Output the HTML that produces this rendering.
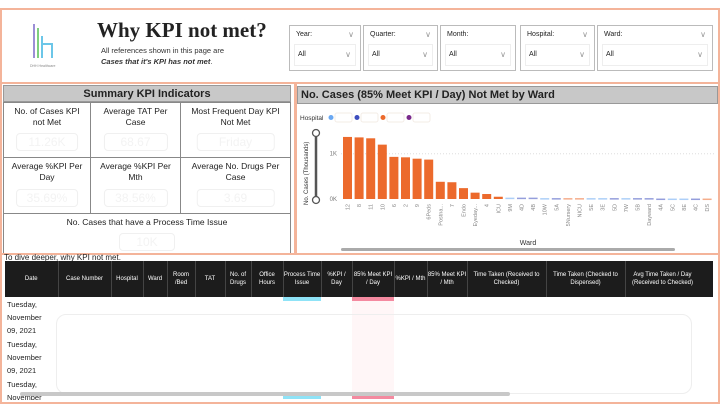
<!DOCTYPE html>
<html><head><meta charset="utf-8"><style>
*{box-sizing:border-box;margin:0;padding:0}
body{width:720px;height:405px;background:#fff;font-family:"Liberation Sans",sans-serif;position:relative;overflow:hidden;color:#222}
.abs{position:absolute}
.slicer{position:absolute;top:25px;height:46px;border:1px solid #bbb;background:#fff;font-size:7px}
.slicer .l{position:absolute;left:6px;top:5px}
.slicer .v{position:absolute;left:4px;right:4px;top:18px;height:22px;border:1px solid #eee;padding:6px 0 0 3px}
.chev{position:absolute;right:6px;color:#999;font-size:8px}
.cell{position:absolute;border:1px solid #888;background:#fff;font-size:8.5px;text-align:center;line-height:11px;padding-top:3px}
.cell .box{position:absolute;left:50%;transform:translateX(-50%);bottom:6px;width:72%;height:18px;border:1px solid #f0f0f0;border-radius:4px;color:#f3f3f3;font-size:12px;line-height:16px}
th{background:#1c1c1c;color:#fff;font-weight:normal;font-size:6px;line-height:8px;border-right:1px solid #444;height:36px;vertical-align:middle;padding:0}
td{font-size:7.5px;line-height:13px;vertical-align:top;padding:1px 2px 0;height:39px;overflow:hidden}
tr.r{height:39px}
</style></head><body>
<div class="abs" style="left:0;top:8px;width:720px;height:76px;border:2px solid #f4b49a"></div>
<svg class="abs" style="left:28px;top:22px" width="40" height="48"><line x1="6" y1="2" x2="6" y2="36" stroke="#9c8fd6" stroke-width="2"/><line x1="10" y1="6" x2="10" y2="36" stroke="#7fcf7f" stroke-width="2"/><path d="M14 14 V36 M14 22 H24 V36" stroke="#6cc6e8" stroke-width="2" fill="none"/><text x="2" y="45" font-size="3.5" fill="#888">DHH Healthcare</text></svg>
<div class="abs" style="left:97px;top:18px;font-family:'Liberation Serif',serif;font-weight:bold;font-size:21px">Why KPI not met?</div>
<div class="abs" style="left:101px;top:45px;font-size:7.5px;line-height:11px;color:#333">All references shown in this page are<br><b><i>Cases that it's KPI has not met</i></b>.</div>
<div class="slicer" style="left:289px;width:72px"><span class="l">Year:</span><span class="chev" style="top:4px">∨</span><div class="v">All<span class="chev" style="top:5px;right:4px">∨</span></div></div>
<div class="slicer" style="left:363px;width:75px"><span class="l">Quarter:</span><span class="chev" style="top:4px">∨</span><div class="v">All<span class="chev" style="top:5px;right:4px">∨</span></div></div>
<div class="slicer" style="left:440px;width:76px"><span class="l">Month:</span><div class="v">All<span class="chev" style="top:5px;right:4px">∨</span></div></div>
<div class="slicer" style="left:520px;width:75px"><span class="l">Hospital:</span><span class="chev" style="top:4px">∨</span><div class="v">All<span class="chev" style="top:5px;right:4px">∨</span></div></div>
<div class="slicer" style="left:597px;width:116px"><span class="l">Ward:</span><span class="chev" style="top:4px">∨</span><div class="v">All<span class="chev" style="top:5px;right:4px">∨</span></div></div>

<div class="abs" style="left:0;top:84px;width:296px;height:171px;border:2px solid #f4b49a;border-top:none"></div>
<div class="abs" style="left:3px;top:85px;width:288px;height:17px;background:#c8c8c8;border:1px solid #999;font-size:11px;font-weight:bold;text-align:center;line-height:16px">Summary KPI Indicators</div>
<div class="cell" style="left:3px;top:102px;width:88px;height:56px">No. of Cases KPI<br>not Met<div class="box">11.26K</div></div>
<div class="cell" style="left:90px;top:102px;width:91px;height:56px">Average TAT Per<br>Case<div class="box">68.67</div></div>
<div class="cell" style="left:180px;top:102px;width:111px;height:56px">Most Frequent Day KPI<br>Not Met<div class="box">Friday</div></div>
<div class="cell" style="left:3px;top:157px;width:88px;height:57px">Average %KPI Per<br>Day<div class="box">35.69%</div></div>
<div class="cell" style="left:90px;top:157px;width:91px;height:57px">Average %KPI Per<br>Mth<div class="box">38.56%</div></div>
<div class="cell" style="left:180px;top:157px;width:111px;height:57px">Average No. Drugs Per<br>Case<div class="box">3.69</div></div>
<div class="cell" style="left:3px;top:213px;width:288px;height:40px;border-bottom:none">No. Cases that have a Process Time Issue<div class="box" style="width:56px;bottom:2px">10K</div></div>

<div class="abs" style="left:295px;top:84px;width:425px;height:171px;border:2px solid #f4b49a;border-top:none"></div>
<div class="abs" style="left:297px;top:86px;width:421px;height:18px;background:#c8c8c8;border:1px solid #999;font-size:11px;font-weight:bold;line-height:17px;padding-left:3px">No. Cases (85% Meet KPI / Day) Not Met by Ward</div>
<svg class="abs" id="chart" style="left:297px;top:105px" width="421" height="148"></svg>

<div class="abs" style="left:0;top:253px;width:720px;height:151px;border:2px solid #f4b49a;border-top:none"></div>
<div class="abs" style="left:4px;top:253px;font-size:8px">To dive deeper, why KPI not met.</div>
<table class="abs" style="left:5px;top:261px;width:695px;border-collapse:collapse;text-align:center;table-layout:fixed">
<colgroup><col style="width:53px"><col style="width:53px"><col style="width:32px"><col style="width:24px"><col style="width:28px"><col style="width:30px"><col style="width:26px"><col style="width:32px"><col style="width:38px"><col style="width:31px"><col style="width:42px"><col style="width:33px"><col style="width:40px"><col style="width:79px"><col style="width:79px"><col style="width:75px"></colgroup>
<tr><th>Date</th><th>Case Number</th><th>Hospital</th><th>Ward</th><th>Room /Bed</th><th>TAT</th><th>No. of Drugs</th><th>Office Hours</th><th>Process Time Issue</th><th>%KPI / Day</th><th>85% Meet KPI / Day</th><th>%KPI / Mth</th><th>85% Meet KPI / Mth</th><th>Time Taken (Received to Checked)</th><th>Time Taken (Checked to Dispensed)</th><th>Avg Time Taken / Day (Received to Checked)</th></tr>
<tr class="r"><td style="text-align:left">Tuesday,<br>November<br>09, 2021</td><td colspan="15"></td></tr>
<tr class="r"><td style="text-align:left">Tuesday,<br>November<br>09, 2021</td><td colspan="15"></td></tr>
<tr class="r"><td style="text-align:left">Tuesday,<br>November</td><td colspan="15"></td></tr>
</table>
<div class="abs" style="left:3px;top:400px;width:714px;height:2px;background:#fff"></div>
<div class="abs" style="left:700px;top:261px;width:13px;height:36px;background:#1c1c1c"></div>
<div class="abs" style="left:283px;top:297px;width:38px;height:4px;background:#8fe3f7"></div>
<div class="abs" style="left:283px;top:395px;width:38px;height:4px;background:#8fe3f7"></div>
<div class="abs" style="left:352px;top:297px;width:42px;height:4px;background:#f48aa0"></div>
<div class="abs" style="left:352px;top:395px;width:42px;height:4px;background:#f48aa0"></div>
<div class="abs" style="left:352px;top:301px;width:42px;height:94px;background:#fff6f7"></div>
<div class="abs" style="left:56px;top:314px;width:636px;height:80px;border:1px solid #eee;border-radius:10px"></div>
<div class="abs" style="left:20px;top:392px;width:490px;height:4px;background:#c8c8c8;border-radius:2px"></div>

<script>
const wards=["12","8","11","10","6","2","9","6Peds","Postna...","7","Endo","Eyeday...","4","ICU","9M","4D","4B","10W","5A","5Nursery","NICU","5E","3E","5D","7W","5B","Dayward","4A","5C","8E","4C","DS"];
const cases=[1.37,1.36,1.34,1.20,0.93,0.92,0.89,0.87,0.38,0.37,0.24,0.14,0.11,0.05,0.03,0.03,0.03,0.02,0.02,0.02,0.02,0.02,0.02,0.02,0.02,0.02,0.02,0.01,0.01,0.01,0.01,0.01];
const hospitalIdx=[2,2,2,2,2,2,2,2,2,2,2,2,2,2,0,1,1,0,1,2,2,0,0,1,0,1,1,1,0,0,1,2];
const yTicks=[0,1];
const yTickLabels=["0K","1K"];
const hospColors=["#6aa8f2","#3e4fbf","#ec6a2c","#7a2a8c"];
const svg=document.getElementById('chart');const NS="http://www.w3.org/2000/svg";
function mk(t,a,txt){const e=document.createElementNS(NS,t);for(const k in a)e.setAttribute(k,a[k]);if(txt!==undefined)e.textContent=txt;svg.appendChild(e);return e;}
const x0=46,step=11.6,bw=9,y0=94,kpx=45.3;
const X=i=>x0+i*step, Y=v=>y0-v*kpx;
let t=mk('text',{x:3,y:15,'font-size':6.5,fill:'#333'},'Hospital');


hospColors.forEach((c,i)=>{const lx=34+i*26;
 const d=mk('circle',{cx:lx,cy:12.5,r:2.5,fill:c});
 
 
 mk('rect',{x:lx+4,y:8,width:17,height:9,fill:'#fff',stroke:'#f3ece6',rx:2});});
mk('line',{x1:19,y1:28,x2:19,y2:95,stroke:'#555','stroke-width':2.5});
mk('circle',{cx:19,cy:28,r:3.5,fill:'#fff',stroke:'#555','stroke-width':1.3});
mk('circle',{cx:19,cy:95,r:3.5,fill:'#fff',stroke:'#555','stroke-width':1.3});
t=mk('text',{x:0,y:0,'font-size':6,fill:'#333',transform:'translate(11,100) rotate(-90)'},'No. Cases (Thousands)');


yTicks.forEach((v,i)=>{
 const l=mk('text',{x:40,y:Y(v)+2,'font-size':6,fill:'#777','text-anchor':'end'},yTickLabels[i]);
 
 
 if(v>0)mk('line',{x1:44,x2:418,y1:Y(v),y2:Y(v),stroke:'#ddd','stroke-dasharray':'1,2'});
});
cases.forEach((v,i)=>{
 const c=hospColors[hospitalIdx[i]];
 const r=mk('rect',{x:X(i),y:Y(v),width:bw,height:Math.max(v*kpx,1.5),fill:c,opacity:hospitalIdx[i]==2&&i<14?1:0.55});
 
 
 const l=mk('text',{x:0,y:0,'font-size':5.5,fill:'#888','text-anchor':'end',transform:`translate(${X(i)+bw/2+2},${y0+5}) rotate(-90)`},wards[i]);
 
 
});
t=mk('text',{x:231,y:140,'font-size':7,fill:'#333','text-anchor':'middle'},'Ward');


const sb=mk('rect',{x:44,y:143,width:334,height:3,fill:'#aaa',rx:1.5});


</script>
</body></html>
